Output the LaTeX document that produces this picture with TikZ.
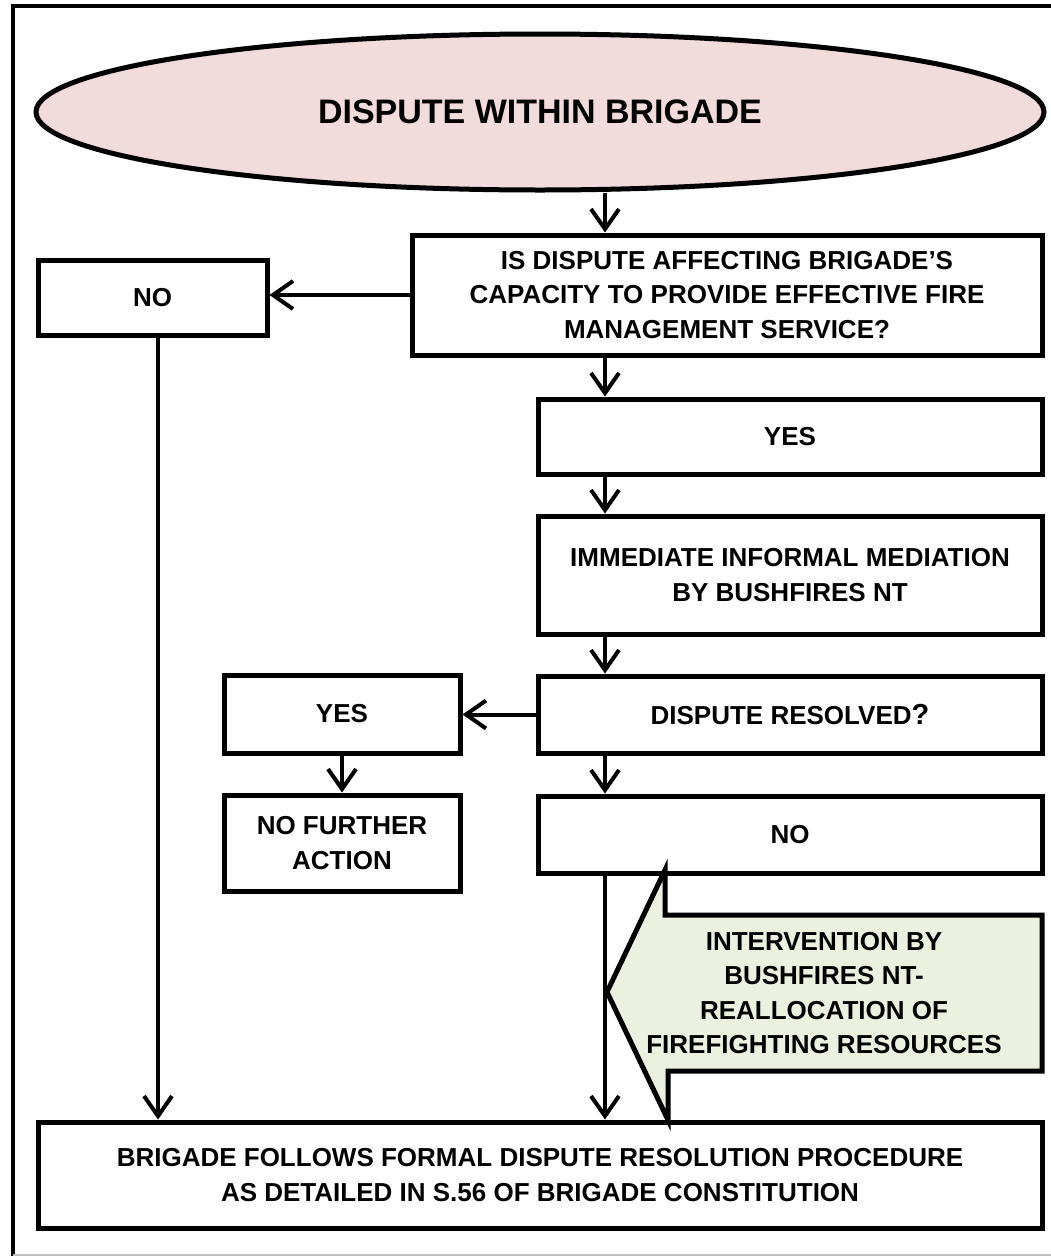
\documentclass[tikz,border=0pt]{standalone}
\usepackage{fontspec}
\setmainfont{Liberation Sans}
\usetikzlibrary{arrows.meta}
\usetikzlibrary{shapes.geometric}

\definecolor{pinkfill}{RGB}{242,220,219}
\definecolor{greenfill}{RGB}{235,241,222}

\begin{document}
\begin{tikzpicture}[x=1pt,y=-1pt]
        \tikzstyle{box}=[draw,rectangle,line width=5pt,align=center,inner sep=0pt,font=\bfseries\fontsize{26}{34.5}\selectfont]
        \tikzstyle{oval}=[draw,ellipse,line width=5pt,fill=pinkfill,inner sep=0pt,font=\bfseries\fontsize{34}{40}\selectfont]
        \tikzstyle{arr}=[line width=4pt,-{Straight Barb[length=20pt,width=28pt]}]
        \useasboundingbox (0,0) rectangle (1051,1256);
        % frame
        \draw[line width=4pt] (13,1256) -- (13,6) -- (1060,6);
        \draw[gray!50,line width=2pt] (13,1255) -- (1051,1255);
        % columns of the connectors
        \coordinate (leftcol) at (158,0);
        \coordinate (maincol) at (605,0);
        % nodes
        \node[oval,minimum width=1008pt,minimum height=156pt] (dispute) at (540,112) {DISPUTE WITHIN BRIGADE};
        \node[box,minimum width=630pt,minimum height=120pt] (affect) at (727,295)
          {IS DISPUTE AFFECTING BRIGADE'S\\CAPACITY TO PROVIDE EFFECTIVE FIRE\\MANAGEMENT SERVICE?};
        \node[box,minimum width=229pt,minimum height=75pt] (noone) at (152.5,297.5) {NO};
        \node[box,minimum width=504pt,minimum height=75pt] (yesone) at (790,436.5) {YES};
        \node[box,minimum width=504pt,minimum height=118pt] (mediate) at (790,575)
          {IMMEDIATE INFORMAL MEDIATION\\BY BUSHFIRES NT};
        \node[box,minimum width=504pt,minimum height=77pt] (resolved) at (790,714.5)
          {DISPUTE RESOLVED{\fontsize{29}{30}\selectfont ?}};
        \node[box,minimum width=236pt,minimum height=78pt] (yestwo) at (342,714) {YES};
        \node[box,minimum width=236pt,minimum height=96pt] (nofurther) at (342,843) {NO FURTHER\\ACTION};
        \node[box,minimum width=504pt,minimum height=77pt] (notwo) at (790,834.5) {NO};
        \node[box,minimum width=1004pt,minimum height=106pt] (formal) at (540,1175)
          {BRIGADE FOLLOWS FORMAL DISPUTE RESOLUTION PROCEDURE\\AS DETAILED IN S.56 OF BRIGADE CONSTITUTION};
        % intervention arrow
        \draw[line width=5pt,line join=miter,fill=greenfill]
          (665,870) -- (665,915) -- (1042,915) -- (1042,1071) -- (668,1071) -- (668,1120) -- (607,992) -- cycle;
        \node[align=center,inner sep=0pt,font=\bfseries\fontsize{26}{34.5}\selectfont] (intervene) at (824,993)
          {INTERVENTION BY\\BUSHFIRES NT-\\REALLOCATION OF\\FIREFIGHTING RESOURCES};
        % connectors
        \draw[arr] (dispute.south -| maincol) -- (affect.north -| maincol);
        \draw[arr] (affect.west) -- (noone.east |- affect.west);
        \draw[arr] (noone.south -| leftcol) -- (formal.north -| leftcol);
        \draw[arr] (affect.south -| maincol) -- (yesone.north -| maincol);
        \draw[arr] (yesone.south -| maincol) -- (mediate.north -| maincol);
        \draw[arr] (mediate.south -| maincol) -- (resolved.north -| maincol);
        \draw[arr] (resolved.west) -- (yestwo.east |- resolved.west);
        \draw[arr] (yestwo.south) -- (nofurther.north);
        \draw[arr] (resolved.south -| maincol) -- (notwo.north -| maincol);
        \draw[arr] (notwo.south -| maincol) -- (formal.north -| maincol);
\end{tikzpicture}
\end{document}
